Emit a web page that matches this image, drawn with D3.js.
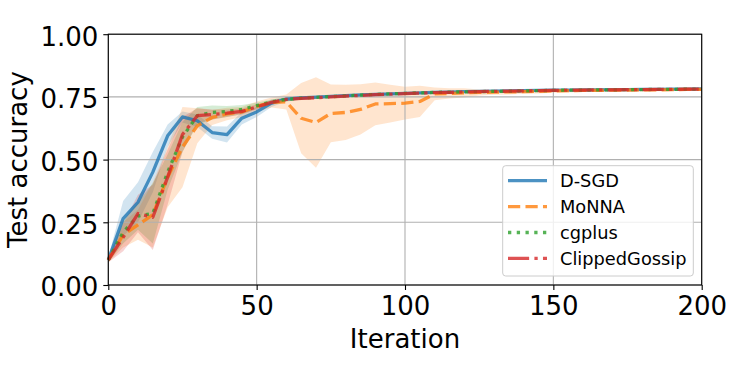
<!DOCTYPE html>
<html>
<head>
<meta charset="utf-8">
<script src="https://cdn.jsdelivr.net/npm/d3@7"></script>
<style>
  body { margin: 0; background: #fff; }
  svg text { font-family: "DejaVu Sans", sans-serif; fill: #000; }
</style>
</head>
<body>
<svg id="chart" width="753" height="377"></svg>
<script>
const iterations = [0, 5, 10, 15, 20, 25, 30, 35, 40, 45, 50, 55, 60, 65, 70, 75, 80, 85, 90, 95, 100,
  105, 110, 115, 120, 125, 130, 135, 140, 145, 150, 155, 160, 165, 170, 175, 180, 185, 190, 195, 200];

const seriesNames = ["D-SGD", "MoNNA", "cgplus", "ClippedGossip"];
const seriesColors = ["#1f77b4", "#ff7f0e", "#2ca02c", "#d62728"];

const dsgdMean = [0.100, 0.265, 0.330, 0.450, 0.595, 0.670, 0.655, 0.608, 0.600, 0.665, 0.690, 0.725, 0.741,
  0.746, 0.749, 0.752, 0.755, 0.758, 0.760, 0.762, 0.764, 0.766, 0.768, 0.769, 0.771, 0.772, 0.773, 0.774,
  0.775, 0.776, 0.777, 0.777, 0.778, 0.778, 0.779, 0.779, 0.780, 0.780, 0.781, 0.781, 0.782];
const monnaMean = [0.100, 0.200, 0.240, 0.280, 0.430, 0.550, 0.635, 0.668, 0.682, 0.690, 0.712, 0.728, 0.730,
  0.665, 0.648, 0.684, 0.688, 0.700, 0.722, 0.723, 0.725, 0.732, 0.762, 0.764, 0.766, 0.768, 0.769, 0.770,
  0.771, 0.772, 0.774, 0.775, 0.776, 0.776, 0.777, 0.777, 0.778, 0.778, 0.779, 0.780, 0.780];
const cgplusMean = [0.100, 0.210, 0.275, 0.285, 0.450, 0.590, 0.675, 0.688, 0.692, 0.700, 0.715, 0.730, 0.740,
  0.745, 0.748, 0.751, 0.754, 0.757, 0.760, 0.762, 0.764, 0.766, 0.768, 0.769, 0.770, 0.771, 0.772, 0.773,
  0.774, 0.775, 0.776, 0.777, 0.777, 0.778, 0.778, 0.779, 0.779, 0.780, 0.780, 0.781, 0.781];
const clippedMean = [0.100, 0.190, 0.285, 0.270, 0.430, 0.600, 0.675, 0.680, 0.685, 0.692, 0.710, 0.728, 0.740,
  0.744, 0.747, 0.750, 0.753, 0.756, 0.759, 0.761, 0.763, 0.765, 0.767, 0.768, 0.770, 0.771, 0.772, 0.773,
  0.774, 0.775, 0.776, 0.777, 0.777, 0.778, 0.778, 0.779, 0.779, 0.780, 0.780, 0.781, 0.781];

// half-width of the shaded band (std)
const dsgdStd = [0.010, 0.070, 0.080, 0.080, 0.045, 0.022, 0.025, 0.025, 0.032, 0.025, 0.020, 0.015, 0.008,
  0.006, 0.005, 0.005, 0.005, 0.005, 0.005, 0.005, 0.005, 0.004, 0.004, 0.004, 0.004, 0.004, 0.004, 0.004,
  0.004, 0.004, 0.004, 0.004, 0.004, 0.004, 0.004, 0.004, 0.004, 0.004, 0.004, 0.004, 0.004];
const monnaStd = [0.010, 0.050, 0.060, 0.130, 0.120, 0.160, 0.070, 0.030, 0.025, 0.020, 0.020, 0.020, 0.030,
  0.140, 0.180, 0.115, 0.110, 0.100, 0.085, 0.075, 0.065, 0.062, 0.025, 0.020, 0.018, 0.012, 0.010, 0.010,
  0.008, 0.008, 0.007, 0.007, 0.006, 0.006, 0.006, 0.006, 0.006, 0.005, 0.005, 0.005, 0.005];
const cgplusStd = [0.010, 0.045, 0.055, 0.120, 0.070, 0.060, 0.035, 0.028, 0.022, 0.018, 0.012, 0.010, 0.008,
  0.006, 0.005, 0.005, 0.005, 0.005, 0.004, 0.004, 0.004, 0.004, 0.004, 0.004, 0.004, 0.004, 0.004, 0.004,
  0.004, 0.004, 0.004, 0.004, 0.004, 0.004, 0.004, 0.004, 0.004, 0.004, 0.004, 0.004, 0.004];
const clippedStd = [0.010, 0.055, 0.075, 0.130, 0.110, 0.070, 0.030, 0.020, 0.015, 0.012, 0.010, 0.008, 0.006,
  0.005, 0.005, 0.005, 0.005, 0.004, 0.004, 0.004, 0.004, 0.004, 0.004, 0.004, 0.004, 0.004, 0.004, 0.004,
  0.004, 0.004, 0.004, 0.004, 0.004, 0.004, 0.004, 0.004, 0.004, 0.004, 0.004, 0.004, 0.004];

const xTicks = [0, 50, 100, 150, 200];
const yTicks = [0, 0.25, 0.5, 0.75, 1.0];

const LW = 3.3;
const dashes = [null, [3.7 * LW, 1.6 * LW], [1 * LW, 1.65 * LW], [6.4 * LW, 1.6 * LW, 1 * LW, 1.6 * LW]];
const means = [dsgdMean, monnaMean, cgplusMean, clippedMean];
const stds = [dsgdStd, monnaStd, cgplusStd, clippedStd];

const svg = d3.select("#chart");
const plotLeft = 108.3, plotRight = 701.7, plotTop = 34.2, plotBottom = 285;

const x = d3.scaleLinear().domain([0, 200]).range([plotLeft, plotRight]);
const y = d3.scaleLinear().domain([0, 1]).range([plotBottom, plotTop]);

// bands first (matplotlib draws collections below grid and lines)
means.forEach((m, s) => {
  const area = d3.area()
    .x((d, i) => x(iterations[i]))
    .y0((d, i) => y(m[i] - stds[s][i]))
    .y1((d, i) => y(m[i] + stds[s][i]));
  svg.append("path")
    .attr("d", area(m))
    .attr("fill", seriesColors[s])
    .attr("fill-opacity", 0.2)
    .attr("stroke", "none");
});

// grid
svg.append("g").selectAll("line").data(xTicks).join("line")
  .attr("x1", d => x(d)).attr("x2", d => x(d))
  .attr("y1", plotTop).attr("y2", plotBottom)
  .attr("stroke", "#b0b0b0").attr("stroke-width", 1.1);
svg.append("g").selectAll("line").data(yTicks).join("line")
  .attr("x1", plotLeft).attr("x2", plotRight)
  .attr("y1", d => y(d)).attr("y2", d => y(d))
  .attr("stroke", "#b0b0b0").attr("stroke-width", 1.1);

// lines
means.forEach((m, s) => {
  const line = d3.line()
    .x((d, i) => x(iterations[i]))
    .y(d => y(d));
  svg.append("path")
    .attr("d", line(m))
    .attr("fill", "none")
    .attr("stroke", seriesColors[s])
    .attr("stroke-opacity", 0.8)
    .attr("stroke-width", LW)
    .attr("stroke-linejoin", "round")
    .attr("stroke-dasharray", dashes[s] ? dashes[s].join(",") : null);
});

// axes
const xAxis = svg.append("g")
  .attr("transform", `translate(0,${plotBottom})`)
  .call(d3.axisBottom(x).tickValues(xTicks).tickSize(5).tickPadding(5).tickFormat(d3.format("d")));
const yAxis = svg.append("g")
  .attr("transform", `translate(${plotLeft},0)`)
  .call(d3.axisLeft(y).tickValues(yTicks).tickSize(5).tickPadding(5).tickFormat(d3.format(".2f")));
[xAxis, yAxis].forEach(g => {
  g.select(".domain").remove();
  g.selectAll(".tick line").attr("stroke", "#000").attr("stroke-width", 1.1);
  g.selectAll(".tick text").attr("font-size", 26).attr("font-family", "DejaVu Sans").attr("fill", "#000");
});
xAxis.selectAll(".tick text").attr("dy", "0.76em");
yAxis.selectAll(".tick text").attr("dy", "0.42em");

// frame
svg.append("rect")
  .attr("x", plotLeft).attr("y", plotTop)
  .attr("width", plotRight - plotLeft).attr("height", plotBottom - plotTop)
  .attr("fill", "none").attr("stroke", "#000").attr("stroke-width", 1.1);

svg.append("text")
  .attr("x", (plotLeft + plotRight) / 2).attr("y", 347.5)
  .attr("text-anchor", "middle").attr("font-size", 26)
  .text("Iteration");
svg.append("text")
  .attr("transform", `translate(27,${(plotTop + plotBottom) / 2}) rotate(-90)`)
  .attr("text-anchor", "middle").attr("font-size", 26)
  .text("Test accuracy");

// legend
const legend = svg.append("g");
legend.append("rect")
  .attr("x", 502.7).attr("y", 165.7).attr("width", 190.6).attr("height", 110.3)
  .attr("rx", 3).attr("fill", "#fff").attr("fill-opacity", 0.8)
  .attr("stroke", "#cccccc").attr("stroke-width", 1);
seriesNames.forEach((name, s) => {
  const cy = 180.7 + s * 25.9;
  legend.append("line")
    .attr("x1", 508).attr("x2", 547).attr("y1", cy).attr("y2", cy)
    .attr("stroke", seriesColors[s]).attr("stroke-opacity", 0.8)
    .attr("stroke-width", LW)
    .attr("stroke-dasharray", dashes[s] ? dashes[s].join(",") : null);
  legend.append("text")
    .attr("x", 560).attr("y", cy).attr("dy", "0.36em")
    .attr("font-size", 17.8)
    .text(name);
});
</script>
</body>
</html>
